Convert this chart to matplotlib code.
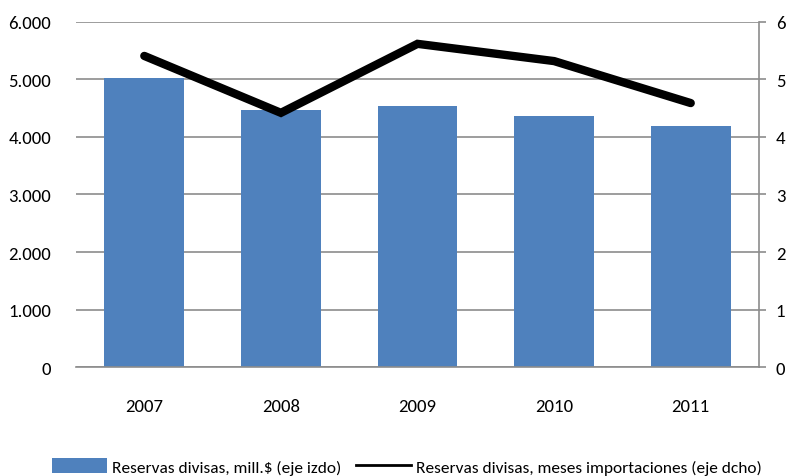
import matplotlib
matplotlib.use("Agg")
import matplotlib.pyplot as plt
from matplotlib.ticker import FuncFormatter
from matplotlib.lines import Line2D

plt.rcParams['font.family'] = ['Carlito', 'DejaVu Sans']

years = ["2007", "2008", "2009", "2010", "2011"]
reservas_mill = [5030, 4470, 4540, 4370, 4190]   # eje izdo
meses_import = [5.41, 4.42, 5.62, 5.32, 4.59]    # eje dcho

grid_col = "#8c8c8c"
bar_col = "#4F81BD"

fig = plt.figure(figsize=(7.9, 4.77), dpi=100)
ax = fig.add_axes([0.0962, 0.2285, 0.8646, 0.7233])
x = range(len(years))

ax.bar(x, reservas_mill, width=0.585, color=bar_col, zorder=2,
       label="Reservas divisas, mill.$ (eje izdo)")
ax.set_ylim(0, 6000)
ax.set_xlim(-0.5, len(years) - 0.5)
ax.set_yticks(range(0, 6001, 1000))
ax.yaxis.set_major_formatter(FuncFormatter(lambda v, p: f"{int(v):,}".replace(",", ".")))
ax.set_xticks(list(x))
ax.set_xticklabels(years)
ax.grid(axis='y', color=grid_col, linewidth=1.2, zorder=0)
ax.tick_params(axis='y', length=0, pad=18, labelsize=13.5)
ax.tick_params(axis='x', length=0, pad=22, labelsize=13.5)
for s in ['left', 'top', 'right']:
    ax.spines[s].set_visible(False)
ax.spines['bottom'].set_color(grid_col)
ax.spines['bottom'].set_linewidth(1.2)

ax2 = ax.twinx()
ax2.plot(list(x), meses_import, color='black', linewidth=6, solid_capstyle='round',
         solid_joinstyle='miter', zorder=3,
         label="Reservas divisas, meses importaciones (eje dcho)")
ax2.set_ylim(0, 6)
ax2.set_yticks(range(0, 7))
ax2.tick_params(axis='y', length=5, width=1.2, color=grid_col, pad=7, labelsize=13.5)
for s in ['left', 'top', 'bottom']:
    ax2.spines[s].set_visible(False)
ax2.spines['right'].set_color(grid_col)
ax2.spines['right'].set_linewidth(1.2)

h1, l1 = ax.get_legend_handles_labels()
l2 = ["Reservas divisas, meses importaciones (eje dcho)"]
h2 = [Line2D([0], [0], color='black', linewidth=2)]
fig.legend(h1 + h2, l1 + l2, loc='center', bbox_to_anchor=(0.515, 0.02), ncol=2,
           frameon=False, fontsize=12.5, handlelength=3.2, handleheight=0.9,
           handletextpad=0.3, columnspacing=0.8, borderaxespad=0)

fig.savefig("out.png", dpi=100)
